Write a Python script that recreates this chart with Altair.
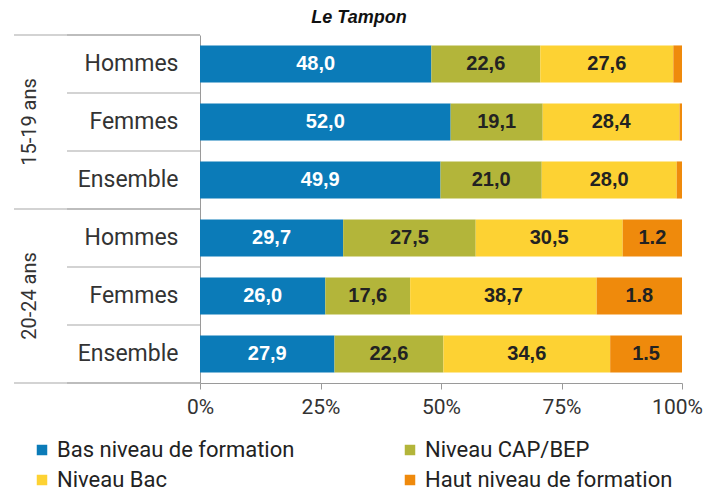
import altair as alt
import pandas as pd

title_text = "Le Tampon"
groups = ["15-19 ans", "20-24 ans"]
sexes = ["Hommes", "Femmes", "Ensemble"]
levels = ["Bas niveau de formation", "Niveau CAP/BEP", "Niveau Bac", "Haut niveau de formation"]
colors = ["#0b7bb8", "#b3b53a", "#fdd233", "#ef8a0c"]

bas = [48.0, 52.0, 49.9, 29.7, 26.0, 27.9]
cap = [22.6, 19.1, 21.0, 27.5, 17.6, 22.6]
bac = [27.6, 28.4, 28.0, 30.5, 38.7, 34.6]
haut = [1.8, 0.5, 1.1, 12.3, 17.7, 14.9]

bas_labels = ["48,0", "52,0", "49,9", "29,7", "26,0", "27,9"]
cap_labels = ["22,6", "19,1", "21,0", "27,5", "17,6", "22,6"]
bac_labels = ["27,6", "28,4", "28,0", "30,5", "38,7", "34,6"]
haut_labels = ["", "", "", "1.2", "1.8", "1.5"]

x_ticks = [0, 25, 50, 75, 100]

# ---- tables built from the lists ----
row_keys = [f"{g}|{s}" for g in groups for s in sexes]
series = [bas, cap, bac, haut]
series_labels = [bas_labels, cap_labels, bac_labels, haut_labels]
records = []
for i, key in enumerate(row_keys):
    for k, lev in enumerate(levels):
        records.append({"row": key, "level": lev, "order": k,
                        "value": series[k][i], "label": series_labels[k][i]})
df = pd.DataFrame(records)

# legend fills column by column: order entries so rows read as in the reference
legend_order = [levels[0], levels[2], levels[1], levels[3]]
legend_colors = [colors[levels.index(l)] for l in legend_order]

row_bounds = pd.DataFrame({"b": list(range(len(row_keys) + 1))})
group_bounds = pd.DataFrame({"b": [j * len(sexes) for j in range(len(groups) + 1)]})
group_df = pd.DataFrame({"name": groups,
                         "center": [j * len(sexes) + len(sexes) / 2 for j in range(len(groups))]})

ysc = alt.Scale(paddingInner=0.36, paddingOuter=0.18)
yaxis = alt.Axis(title=None, labelExpr="split(datum.label, '|')[1]", ticks=False,
                 domainColor="#9a9a9a", labelFontSize=23, labelColor="#333333",
                 labelPadding=22, labelFont="Roboto")
xsc = alt.Scale(domain=[0, 100], nice=False)
xaxis = alt.Axis(values=x_ticks, labelExpr="datum.value + '%'", title=None, grid=False,
                 domainColor="#9a9a9a", tickColor="#9a9a9a", tickSize=6,
                 labelFontSize=21, labelPadding=7, labelColor="#333333",
                 labelFont="Roboto", labelFlush=False,
                 labelOffset={"condition": {"test": "datum.value == 100", "value": -5},
                              "value": 0})

base = alt.Chart(df)

bars = base.mark_bar().encode(
    y=alt.Y("row:N", sort=row_keys, scale=ysc, axis=yaxis),
    x=alt.X("value:Q", stack="zero", scale=xsc, axis=xaxis),
    color=alt.Color("level:N", sort=legend_order,
                    scale=alt.Scale(domain=legend_order, range=legend_colors),
                    legend=alt.Legend(orient="none", legendX=-169, legendY=404, columns=2,
                                      symbolType="square", symbolSize=110, symbolStrokeWidth=0,
                                      labelFontSize=22, labelFont="Roboto", labelColor="#222222",
                                      columnPadding=104, rowPadding=8, title=None,
                                      labelLimit=400)),
    order=alt.Order("order:Q"),
)

texts = base.transform_stack(
    stack="value", groupby=["row"], sort=[alt.SortField("order")], as_=["x0", "x1"]
).transform_calculate(
    mid="(datum.x0 + datum.x1) / 2"
).mark_text(font="Liberation Sans", fontWeight="bold", fontSize=20).encode(
    y=alt.Y("row:N", sort=row_keys, scale=ysc, axis=yaxis),
    x=alt.X("mid:Q", scale=xsc, axis=xaxis),
    text="label:N",
    color=alt.condition(alt.datum.order == 0, alt.value("white"), alt.value("#222222")),
)

inner = alt.layer(bars, texts)

ylin = alt.Scale(domain=[0, len(row_keys)], reverse=True, nice=False, zero=False)

row_rules = alt.Chart(row_bounds).mark_rule(color="#a8a8a8", strokeWidth=1.2).encode(
    y=alt.Y("b:Q", scale=ylin, axis=None),
    x=alt.value(-133), x2=alt.value(0),
)
group_rules = alt.Chart(group_bounds).mark_rule(color="#a8a8a8", strokeWidth=1.2).encode(
    y=alt.Y("b:Q", scale=ylin, axis=None),
    x=alt.value(-186), x2=alt.value(0),
)
group_text = alt.Chart(group_df).mark_text(angle=270, fontSize=20, font="Roboto",
                                           color="#333333").encode(
    y=alt.Y("center:Q", scale=ylin, axis=None),
    x=alt.value(-170),
    text="name:N",
)

chart = alt.layer(inner, row_rules, group_rules, group_text).resolve_scale(
    y="independent"
).properties(
    width=482, height=348,
    title=alt.TitleParams(title_text, fontSize=18, fontStyle="italic", fontWeight="bold",
                          font="Liberation Sans", dx=-82, offset=7, color="#111111"),
    autosize=alt.AutoSizeParams(type="none"),
    padding={"left": 192, "top": 27, "right": 23, "bottom": 110},
).configure_view(stroke=None)

chart.save("out.html", embed_options={"renderer": "svg", "actions": False})
